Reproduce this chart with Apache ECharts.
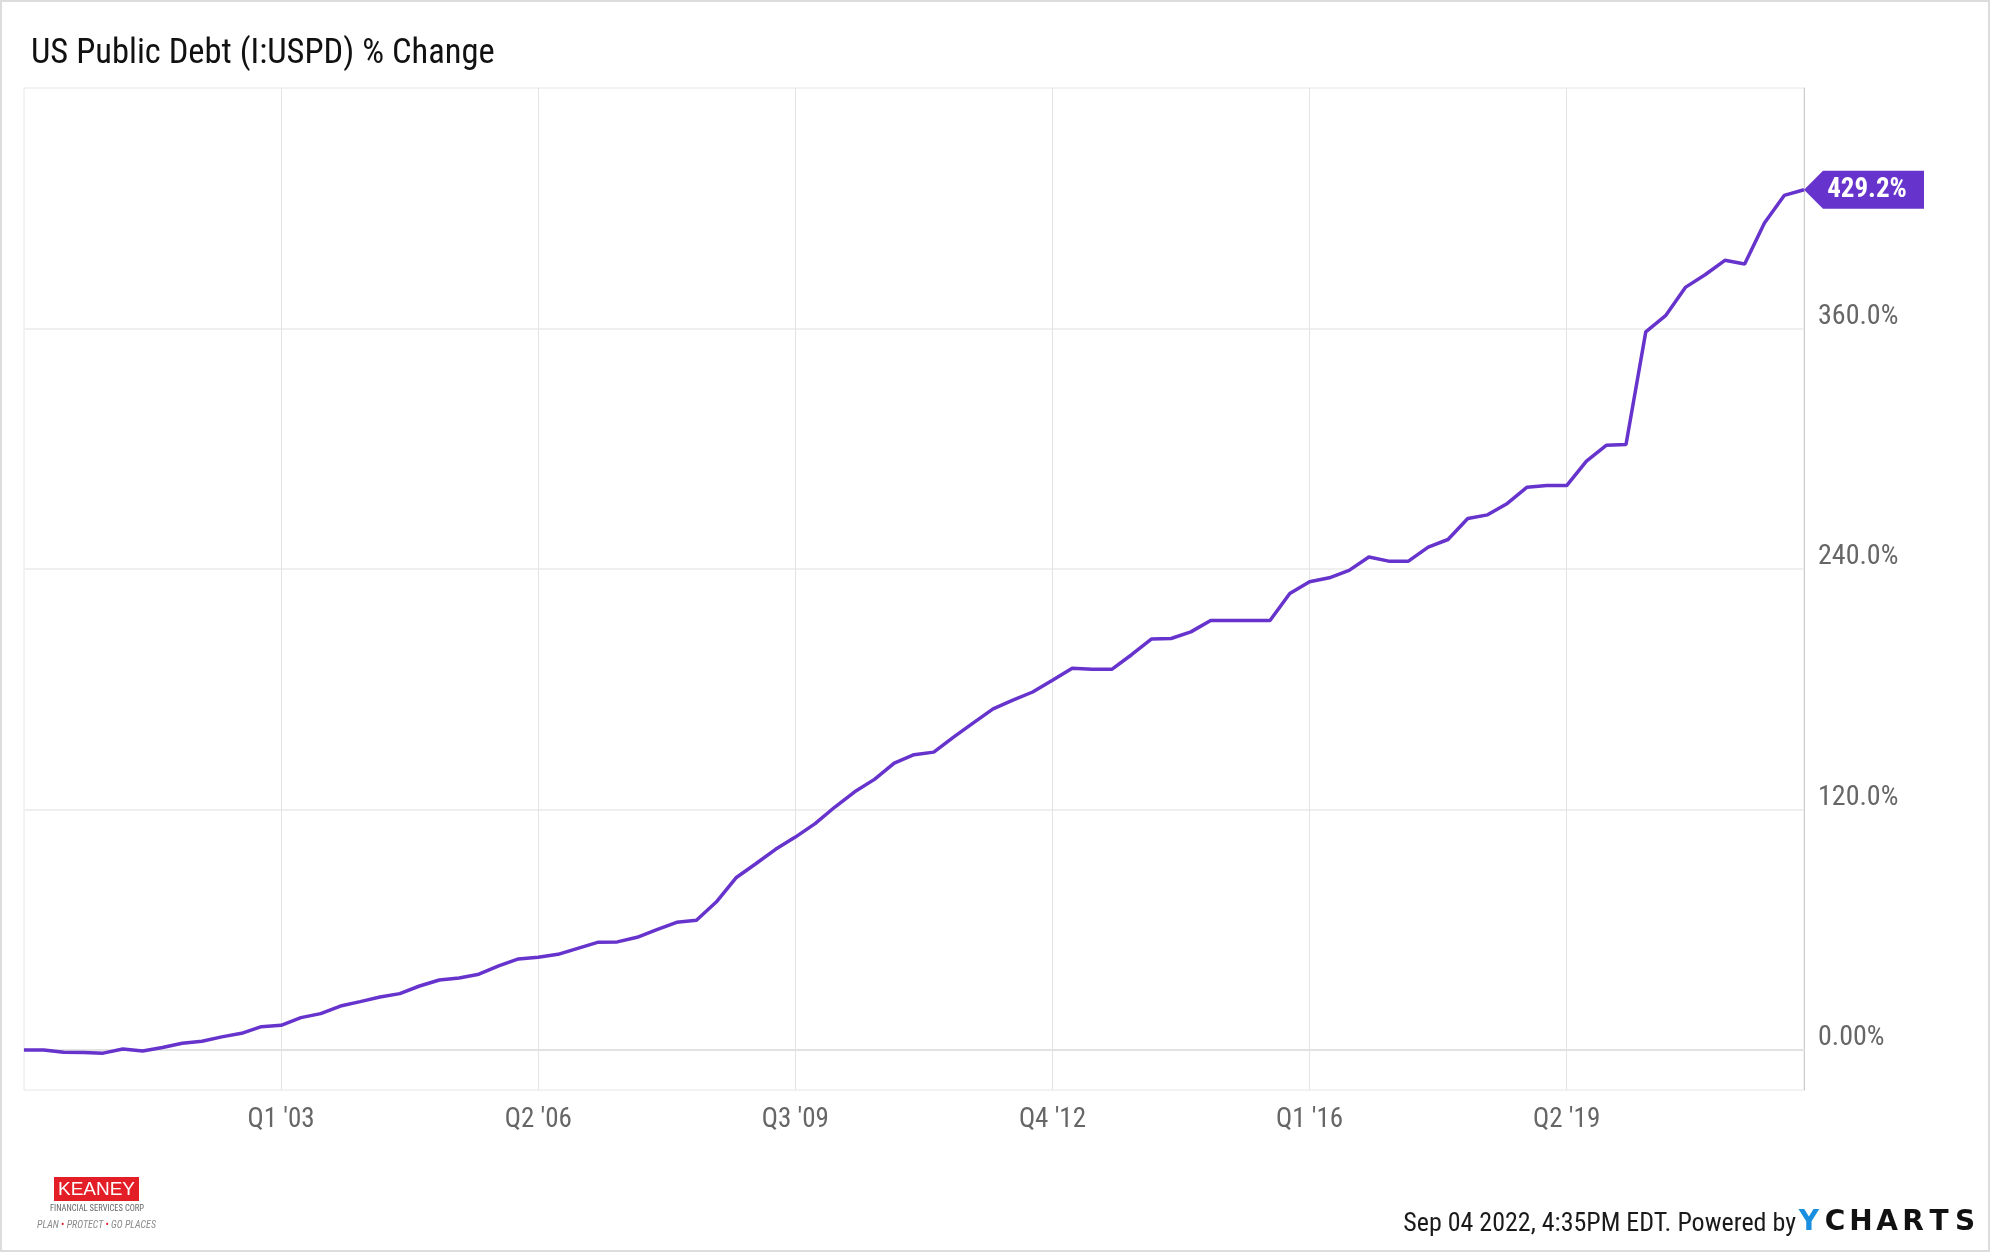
<!DOCTYPE html>
<html><head><meta charset="utf-8">
<script src="https://cdn.jsdelivr.net/npm/echarts@6/dist/echarts.min.js"></script>
<style>html,body{margin:0;padding:0;background:#fff}#chart{width:1991px;height:1253px}</style>
</head><body><div id="chart"></div>
<script>
const titleText = 'US Public Debt (I:USPD) % Change';
const categories = [
  "Q4 '99",
  "Q1 '00","Q2 '00","Q3 '00","Q4 '00",
  "Q1 '01","Q2 '01","Q3 '01","Q4 '01",
  "Q1 '02","Q2 '02","Q3 '02","Q4 '02",
  "Q1 '03","Q2 '03","Q3 '03","Q4 '03",
  "Q1 '04","Q2 '04","Q3 '04","Q4 '04",
  "Q1 '05","Q2 '05","Q3 '05","Q4 '05",
  "Q1 '06","Q2 '06","Q3 '06","Q4 '06",
  "Q1 '07","Q2 '07","Q3 '07","Q4 '07",
  "Q1 '08","Q2 '08","Q3 '08","Q4 '08",
  "Q1 '09","Q2 '09","Q3 '09","Q4 '09",
  "Q1 '10","Q2 '10","Q3 '10","Q4 '10",
  "Q1 '11","Q2 '11","Q3 '11","Q4 '11",
  "Q1 '12","Q2 '12","Q3 '12","Q4 '12",
  "Q1 '13","Q2 '13","Q3 '13","Q4 '13",
  "Q1 '14","Q2 '14","Q3 '14","Q4 '14",
  "Q1 '15","Q2 '15","Q3 '15","Q4 '15",
  "Q1 '16","Q2 '16","Q3 '16","Q4 '16",
  "Q1 '17","Q2 '17","Q3 '17","Q4 '17",
  "Q1 '18","Q2 '18","Q3 '18","Q4 '18",
  "Q1 '19","Q2 '19","Q3 '19","Q4 '19",
  "Q1 '20","Q2 '20","Q3 '20","Q4 '20",
  "Q1 '21","Q2 '21","Q3 '21","Q4 '21",
  "Q1 '22","Q2 '22"
];
const values = [
  0,
  0, -1.2, -1.3, -1.6,
  0.5, -0.5, 1.2, 3.3,
  4.3, 6.5, 8.3, 11.6,
  12.3, 16.1, 18.1, 21.9,
  24.1, 26.4, 28.1, 31.9,
  34.9, 35.9, 37.8, 41.9,
  45.4, 46.2, 47.7, 50.7,
  53.7, 53.9, 56.2, 60.0,
  63.7, 64.7, 73.8, 85.9,
  92.9, 100.1, 106.2, 112.9,
  121.2, 128.8, 135.0, 143.1,
  147.3, 148.6, 156.1, 163.2,
  170.2, 174.5, 178.6, 184.5,
  190.5, 189.9, 189.9, 197.2,
  205.0, 205.3, 208.6, 214.3,
  214.3, 214.3, 214.3, 227.8,
  233.6, 235.6, 239.3, 246.0,
  243.9, 243.9, 250.9, 254.7,
  265.2, 267.0, 272.7, 280.8,
  281.6, 281.6, 293.8, 301.7,
  302.1, 358.3, 366.4, 380.5,
  386.8, 394.0, 392.2, 412.6,
  426.4, 429.2
];
const xTickLabels = ["Q1 '03", "Q2 '06", "Q3 '09", "Q4 '12", "Q1 '16", "Q2 '19"];
const yTickValues = [0, 120, 240, 360];
const yTickLabels = ['0.00%', '120.0%', '240.0%', '360.0%'];
const footerText = 'Sep 04 2022, 4:35PM EDT. Powered by';
const brandLetters = ['Y', 'C', 'H', 'A', 'R', 'T', 'S'];

const NARROW = "'Roboto Condensed','Liberation Sans Narrow','Arial Narrow','DejaVu Sans Condensed',Roboto,sans-serif";
const PURPLE = '#6633cc';
const lastIdx = values.length - 1;
const showTick = (i) => xTickLabels.indexOf(categories[i]) >= 0;

const chart = echarts.init(document.getElementById('chart'), null, {renderer: 'canvas'});

const graphics = [
  {type: 'rect', shape: {x: 1, y: 1, width: 1988, height: 1250}, style: {fill: 'none', stroke: '#dcdcdc', lineWidth: 2}, silent: true, z: -1},
  {type: 'text', x: 1796, y: 1224, style: {text: footerText, font: '26px ' + NARROW, fill: '#1a1a1a', textAlign: 'right', textVerticalAlign: 'middle'}},
  {type: 'rect', shape: {x: 54, y: 1177, width: 85, height: 24}, style: {fill: '#e41e26'}},
  {type: 'text', x: 96.5, y: 1190, style: {text: 'KEANEY', font: '19px "Liberation Sans", Arial, sans-serif', fill: '#ffffff', textAlign: 'center', textVerticalAlign: 'middle'}},
  {type: 'text', x: 97, y: 1208.5, style: {text: 'FINANCIAL SERVICES CORP', font: '8.5px ' + NARROW, fill: '#666', textAlign: 'center', textVerticalAlign: 'middle'}},
  {type: 'text', x: 96.5, y: 1225.5, style: {text: '{g|PLAN }{r|\u2022}{g| PROTECT }{r|\u2022}{g| GO PLACES}', textAlign: 'center', textVerticalAlign: 'middle',
    rich: {g: {fontSize: 10, fontStyle: 'italic', fontFamily: NARROW, fill: '#8a8a8a'}, r: {fontSize: 10, fontFamily: NARROW, fill: '#e41e26'}}}}
];
brandLetters.forEach((ch, i) => {
  graphics.push({type: 'text', x: 1809 + i * 26, y: 1222.5, style: {text: ch, font: 'bold 28px "DejaVu Sans", Roboto, sans-serif', fill: i === 0 ? '#1a8fe0' : '#111', textAlign: 'center', textVerticalAlign: 'middle'}});
});

chart.setOption({
  backgroundColor: '#ffffff',
  animation: false,
  title: {text: titleText, left: 26, top: 32, textStyle: {fontFamily: NARROW, fontSize: 34.5, fontWeight: 'normal', color: '#111'}},
  grid: {left: 24, right: 187, top: 88, bottom: 163, show: true, borderColor: '#e6e6e6', borderWidth: 1, containLabel: false},
  xAxis: {
    type: 'category', data: categories, boundaryGap: false,
    axisLine: {show: true, lineStyle: {color: '#e2e2e2', width: 2}},
    axisTick: {show: true, interval: (i) => showTick(i), length: 6, lineStyle: {color: '#e2e2e2'}},
    axisLabel: {interval: (i) => showTick(i), margin: 17, fontFamily: NARROW, fontSize: 27, color: '#666'},
    splitLine: {show: true, interval: (i) => showTick(i), lineStyle: {color: '#e4e4e4', width: 1}}
  },
  yAxis: {
    type: 'value', position: 'right', min: -20, max: 480,
    axisLine: {show: true, lineStyle: {color: '#cccccc', width: 1}},
    axisTick: {show: false, customValues: yTickValues},
    axisLabel: {customValues: yTickValues, formatter: (v) => yTickLabels[yTickValues.indexOf(v)] || '', margin: 14,
      fontFamily: NARROW, fontSize: 28, color: '#666', verticalAlign: 'bottom', lineHeight: 23, align: 'left'},
    splitLine: {show: true, lineStyle: {color: '#efefef', width: 2}}
  },
  series: [{
    type: 'line', data: values, showSymbol: false, symbol: 'none', clip: false,
    lineStyle: {color: PURPLE, width: 3.5}, itemStyle: {color: PURPLE},
    markPoint: {
      silent: true, animation: false,
      symbol: 'path://M0,19L19,0L120,0L120,38L19,38Z', symbolSize: [120, 38], symbolOffset: [60, 0],
      itemStyle: {color: PURPLE},
      label: {show: true, position: 'inside', offset: [3, 0], color: '#fff', fontFamily: NARROW, fontWeight: 'bold', fontSize: 27,
        formatter: (p) => p.value.toFixed(1) + '%'},
      data: [{coord: [categories[lastIdx], values[lastIdx]], value: values[lastIdx]}]
    }
  }],
  graphic: graphics
});
</script></body></html>
